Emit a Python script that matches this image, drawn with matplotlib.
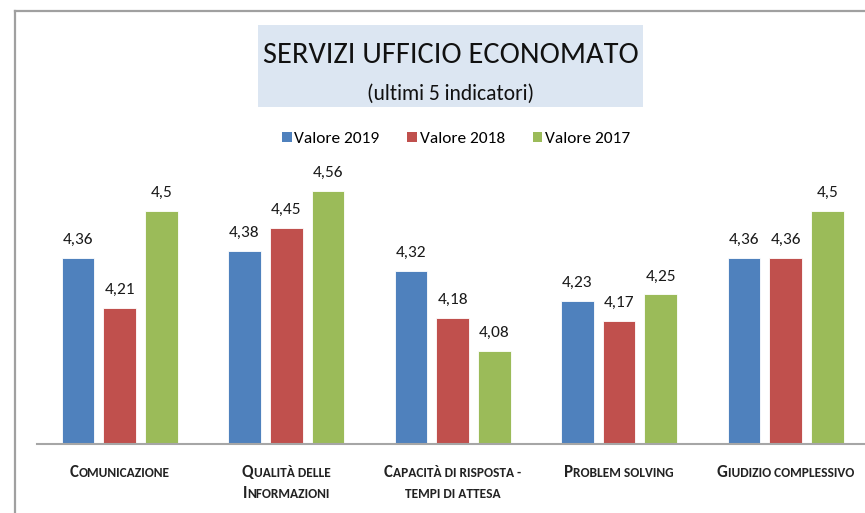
import numpy as np
import matplotlib
matplotlib.use("Agg")
import matplotlib.pyplot as plt
from matplotlib.patches import Rectangle, Patch
from matplotlib.lines import Line2D
from matplotlib import font_manager

names = {f.name for f in font_manager.fontManager.ttflist}
main_font = "Carlito" if "Carlito" in names else "Lato"
plt.rcParams['font.family'] = [main_font, 'DejaVu Sans']

# data
series_names = ["Valore 2019", "Valore 2018", "Valore 2017"]
v2019 = [4.36, 4.38, 4.32, 4.23, 4.36]
v2018 = [4.21, 4.45, 4.18, 4.17, 4.36]
v2017 = [4.5, 4.56, 4.08, 4.25, 4.5]
colors = ["#4f81bd", "#c0504d", "#9bbb59"]

# category labels in small caps: each line is a list of (text, big_letter)
cat_labels = [
    [[("C", True), ("OMUNICAZIONE", False)]],
    [[("Q", True), ("UALITÀ DELLE", False)],
     [("I", True), ("NFORMAZIONI", False)]],
    [[("C", True), ("APACITÀ DI RISPOSTA -", False)],
     [("TEMPI DI ATTESA", False)]],
    [[("P", True), ("ROBLEM SOLVING", False)]],
    [[("G", True), ("IUDIZIO COMPLESSIVO", False)]],
]

W, H = 865, 513
fig = plt.figure(figsize=(W / 100, H / 100), dpi=100)
fig.patch.set_facecolor("white")

# plot area: x from 36.5px, 166.45px per category; baseline at 444px
ax = fig.add_axes([36.5 / W, (H - 444.3) / H, 832.3 / W, 300 / H])
ax.set_xlim(-0.5, 4.5)
ax.set_ylim(3.8, 4.7)

x = np.arange(len(v2019))
bw = 0.196
step = 0.2505
for i, vals in enumerate([v2019, v2018, v2017]):
    xs = x + (i - 1) * step
    ax.bar(xs, vals, width=bw, color=colors[i], edgecolor="white", linewidth=0.6)
    for xi, v in zip(xs, vals):
        ax.annotate(f"{v:g}".replace(".", ","), (xi, v), xytext=(0, 10),
                    textcoords="offset points", ha="center", va="baseline",
                    fontsize=12.5, color="#1a1a1a")

for s in ["top", "left", "right"]:
    ax.spines[s].set_visible(False)
ax.spines["bottom"].set_color("#a6a6a6")
ax.spines["bottom"].set_linewidth(1.5)
ax.set_xticks([])
ax.set_yticks([])
ax.patch.set_alpha(0)

# chart border (only top and left visible in the crop)
fig.add_artist(Line2D([15 / W, 15 / W], [0, 1 - 11 / H], transform=fig.transFigure,
                      color="#a0a0a0", lw=1.6))
fig.add_artist(Line2D([15 / W, 1], [1 - 11 / H, 1 - 11 / H], transform=fig.transFigure,
                      color="#a0a0a0", lw=1.6))

# title box
fig.add_artist(Rectangle((258 / W, 1 - 107 / H), 385 / W, 82 / H,
                         transform=fig.transFigure, facecolor="#dce6f2",
                         edgecolor="none"))
fig.text(451 / W, 1 - 63.3 / H, "SERVIZI UFFICIO ECONOMATO", ha="center",
         va="baseline", fontsize=22, color="#111111")
fig.text(451 / W, 1 - 99.5 / H, "(ultimi 5 indicatori)", ha="center",
         va="baseline", fontsize=15.5, color="#111111")

# legend
handles = [Patch(facecolor=c, edgecolor="none") for c in colors]
fig.legend(handles, series_names, loc="center", bbox_to_anchor=(456 / W, 1 - 139 / H),
           ncol=3, frameon=False, fontsize=12.5, handlelength=0.55, handleheight=0.55,
           handletextpad=0.15, columnspacing=1.6)


# small caps labels drawn as runs of big/small text
def small_caps_line(xc, y_base, runs):
    texts = []
    for s, big in runs:
        t = fig.text(0, 1 - y_base / H, s, fontsize=12.2 if big else 9.6,
                     fontweight="bold", color="#222222", va="baseline", ha="left")
        texts.append(t)
    r = fig.canvas.get_renderer()
    widths = [t.get_window_extent(r).width for t in texts]
    left = xc - sum(widths) / 2
    for t, w in zip(texts, widths):
        t.set_x(left / W)
        left += w


centers = [119.7 + 166.45 * i for i in range(5)]
for xc, lines in zip(centers, cat_labels):
    for k, runs in enumerate(lines):
        small_caps_line(xc, 477 + k * 21.5, runs)

fig.savefig("out.png", dpi=100)
